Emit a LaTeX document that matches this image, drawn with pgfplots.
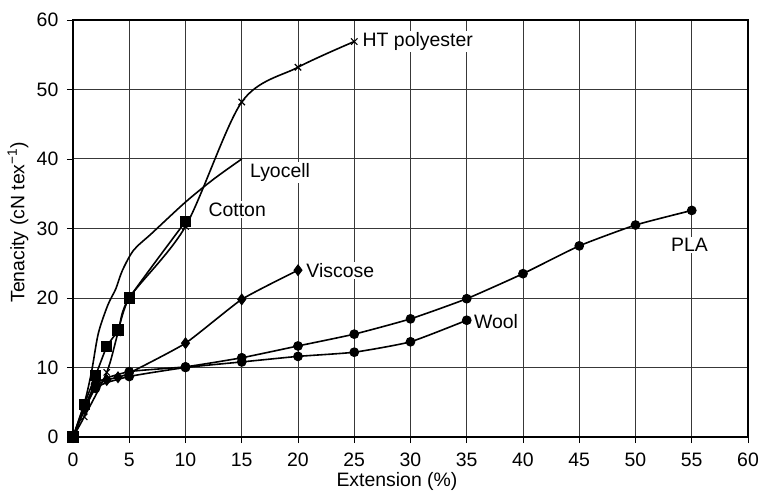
\documentclass[border=0pt]{standalone}
\usepackage{fontspec}
\setmainfont{Liberation Sans}
\usepackage{pgfplots}
\pgfplotsset{compat=1.18}
\begin{document}
\fontsize{19.5}{23}\selectfont
\begin{tikzpicture}
\begin{axis}[
    width=675bp, height=417bp, scale only axis,
    xmin=0, xmax=60, ymin=0, ymax=60,
    xtick={0,5,...,60}, ytick={0,10,...,60},
    grid=major,
    major grid style={black!78, line width=1bp},
    axis line style={black, line width=1.1bp},
    tick style={black, line width=0.9bp},
    tick align=outside, major tick length=6bp,
    tick pos=left,
    /pgf/number format/assume math mode=true,
    ticklabel style={font=\fontsize{19.5}{23}\selectfont},
    xticklabel style={yshift=-3bp},
    yticklabel style={xshift=-2bp},
    label style={font=\fontsize{19.5}{23}\selectfont},
    xlabel={Extension (\%)},
    ylabel={Tenacity (cN tex\textsuperscript{−1})},
    xlabel style={at={(axis description cs:0.48,-0.1055)}, anchor=center},
    ylabel style={at={(axis description cs:-0.0815,0.515)}, anchor=center},
    every axis plot/.append style={black, line width=1.6bp, mark options={solid, fill=black, line width=1.1bp}},
]
% Lyocell
\addplot[smooth, no marks] coordinates {
(0,0) (1,4.8) (1.65,9.4) (2.25,14.9) (3.1,19) (3.8,21.3) (4.4,24) (5.4,26.9) (7,29.3) (10,33.8) (12.5,37.1) (15,40)};
% PLA
\addplot[smooth, tension=0.3, mark=*, mark size=4.3bp] coordinates {
(0,0) (2,7.6) (5,9.4) (10,10.1) (15,11.4) (20,13.1) (25,14.8) (30,17) (35,19.9) (40,23.5) (45,27.5) (50,30.5) (55,32.6)};
% Wool
\addplot[smooth, tension=0.3, mark=*, mark size=4.3bp] coordinates {
(0,0) (2,7) (5,8.7) (10,10) (15,10.8) (20,11.6) (25,12.2) (30,13.7) (35,16.8)};
% Viscose
\addplot[smooth, tension=0.3, mark=diamond*, mark size=5.2bp] coordinates {
(0,0) (1,4) (2,7.3) (3,8.2) (4,8.6) (5,9.2) (10,13.5) (15,19.8) (20,24)};
% HT polyester
\addplot[smooth, tension=0.5, mark=x, mark size=4.5bp] coordinates {
(0,0) (1,2.9) (3,9.3) (4,15) (5,20) (10,30.3) (15,48.2) (20,53.2) (25,56.9)};
% Cotton
\addplot[smooth, tension=0.3, mark=square*, mark size=5bp] coordinates {
(0,0) (1,4.7) (2,8.8) (3,13) (4,15.4) (5,20) (10,31)};
\tikzset{lbl/.style={fill=white, inner sep=1.5bp, font=\fontsize{19.5}{23}\selectfont}}
\node[lbl, anchor=west] at (axis cs:25.6,56.9) {HT polyester};
\node[lbl, anchor=west] at (axis cs:15.6,38) {Lyocell};
\node[lbl, anchor=west] at (axis cs:11.9,32.7) {Cotton};
\node[lbl, anchor=west] at (axis cs:20.6,24) {Viscose};
\node[lbl, anchor=west] at (axis cs:35.5,16.6) {Wool};
\node[lbl, anchor=center] at (axis cs:54.8,27.6) {PLA};
\end{axis}
\pgfresetboundingbox
\path ([shift={(-73bp,-55bp)}]current axis.south west) rectangle ([shift={(11bp,20bp)}]current axis.north east);
\end{tikzpicture}
\end{document}
